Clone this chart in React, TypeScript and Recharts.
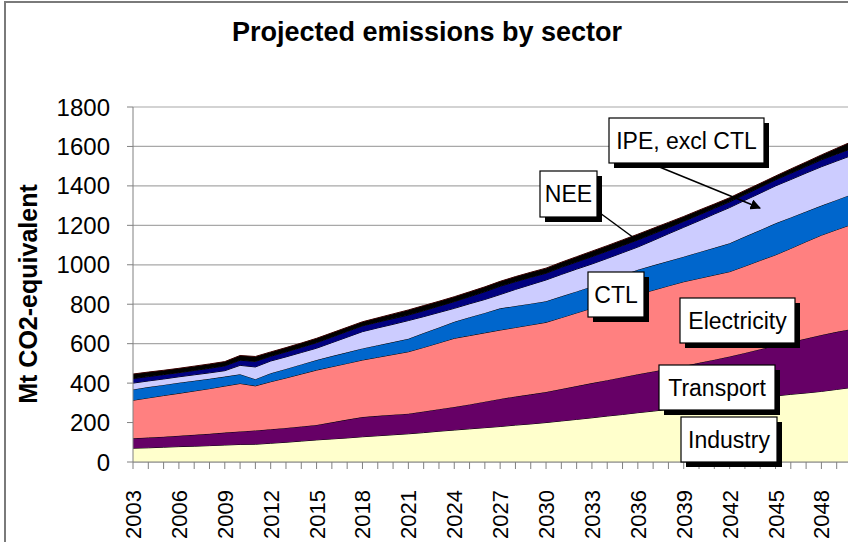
import { AreaChart, Area, XAxis, YAxis, CartesianGrid } from "recharts";

const years = [
  2003, 2004, 2005, 2006, 2007, 2008, 2009, 2010, 2011, 2012, 2013, 2014,
  2015, 2016, 2017, 2018, 2019, 2020, 2021, 2022, 2023, 2024, 2025, 2026,
  2027, 2028, 2029, 2030, 2031, 2032, 2033, 2034, 2035, 2036, 2037, 2038,
  2039, 2040, 2041, 2042, 2043, 2044, 2045, 2046, 2047, 2048, 2049, 2050,
];

// Mt CO2-eq per sector, stacked bottom to top
const industry = [
  70, 72, 75, 78, 80, 83, 86, 89, 90, 95, 100, 106,
  112, 117, 122, 128, 133, 138, 143, 149, 156, 162, 168, 174,
  180, 187, 193, 200, 208, 216, 224, 233, 241, 250, 258, 267,
  275, 283, 292, 300, 312, 323, 335, 343, 350, 358, 368, 378,
];
const transport = [
  50, 52, 53, 55, 58, 60, 63, 66, 70, 71, 73, 74,
  76, 84, 93, 100, 101, 102, 102, 107, 112, 117, 124, 132,
  140, 145, 150, 155, 162, 169, 176, 182, 189, 195, 201, 206,
  212, 220, 227, 235, 241, 249, 255, 265, 276, 286, 292, 297,
];
const electricity = [
  193, 201, 209, 215, 222, 229, 236, 243, 226, 241, 253, 266,
  278, 282, 285, 289, 297, 305, 314, 325, 336, 348, 349, 349,
  349, 350, 352, 353, 362, 371, 380, 388, 397, 405, 412, 420,
  427, 428, 429, 430, 440, 450, 460, 475, 491, 506, 518, 530,
];
const ctl = [
  55, 55, 54, 54, 52, 50, 48, 47, 34, 43, 46, 49,
  51, 54, 56, 59, 61, 63, 66, 73, 78, 84, 93, 101,
  110, 109, 108, 107, 108, 109, 110, 115, 120, 125, 126, 126,
  127, 133, 138, 144, 150, 154, 160, 157, 153, 150, 151, 153,
];
const ipe = [
  32, 31, 30, 30, 30, 30, 30, 45, 62, 62, 61, 60,
  60, 68, 77, 85, 88, 90, 92, 83, 76, 68, 68, 68,
  70, 84, 96, 108, 111, 113, 114, 114, 114, 115, 126, 138,
  149, 159, 171, 181, 184, 187, 190, 192, 195, 197, 197, 197,
];
const nee = [
  23, 22, 22, 21, 22, 23, 24, 26, 28, 24, 25, 26,
  28, 28, 29, 29, 29, 29, 28, 30, 32, 34, 36, 39,
  42, 39, 37, 34, 36, 36, 37, 37, 36, 36, 34, 31,
  30, 30, 29, 29, 29, 30, 30, 32, 33, 35, 35, 35,
];
const other = [
  23, 23, 22, 22, 22, 22, 22, 24, 25, 22, 22, 22,
  22, 22, 21, 21, 22, 24, 26, 26, 25, 25, 25, 25,
  25, 26, 26, 26, 26, 27, 28, 28, 29, 29, 28, 27,
  25, 24, 22, 21, 21, 20, 20, 22, 23, 25, 30, 35,
];

const xLabels = [
  2003, 2006, 2009, 2012, 2015, 2018, 2021, 2024, 2027, 2030, 2033, 2036,
  2039, 2042, 2045, 2048,
];
const yTicks = [0, 200, 400, 600, 800, 1000, 1200, 1400, 1600, 1800];

const data = years.map((year, i) => ({
  year,
  industry: industry[i],
  transport: transport[i],
  electricity: electricity[i],
  ctl: ctl[i],
  ipe: ipe[i],
  nee: nee[i],
  other: other[i],
}));

const FONT = '"Liberation Sans", Arial, Helvetica, sans-serif';

const callouts = [
  { text: "IPE, excl CTL", x: 609, y: 118, w: 155, h: 45 },
  { text: "NEE", x: 540, y: 171, w: 57, h: 46 },
  { text: "CTL", x: 588, y: 272, w: 56, h: 45 },
  { text: "Electricity", x: 680, y: 298, w: 115, h: 45 },
  { text: "Transport", x: 659, y: 365, w: 116, h: 45 },
  { text: "Industry", x: 681, y: 417, w: 96, h: 45 },
];

function YearTick(props: any) {
  const { x, y, payload } = props;
  if (!xLabels.includes(payload.value)) return <g />;
  return (
    <text
      x={x}
      y={y}
      dy={8}
      transform={`rotate(-90, ${x}, ${y})`}
      textAnchor="end"
      fontSize={22}
      fill="#000"
      fontFamily={FONT}
    >
      {payload.value}
    </text>
  );
}

export default function App() {
  return (
    <div
      style={{
        position: "fixed",
        left: 0,
        top: 0,
        width: 848,
        height: 542,
        overflow: "hidden",
        background: "#fff",
        fontFamily: FONT,
      }}
    >
      <div
        style={{
          position: "absolute",
          left: 4,
          top: 1,
          width: 900,
          height: 600,
          borderLeft: "2px solid #7a7a7a",
          borderTop: "2px solid #7a7a7a",
        }}
      />
      <div style={{ position: "absolute", left: 0, top: 0 }}>
        <AreaChart
          width={870}
          height={542}
          data={data}
          margin={{ top: 107, right: 18, bottom: 0, left: 0 }}
        >
          <CartesianGrid vertical={false} stroke="#a8a8a8" strokeWidth={1.2} />
          <XAxis
            dataKey="year"
            interval={0}
            height={80}
            stroke="#808080"
            tickSize={7}
            tickMargin={21}
            tick={<YearTick />}
          />
          <YAxis
            domain={[0, 1800]}
            ticks={yTicks}
            width={133}
            stroke="#808080"
            tickSize={6}
            tickMargin={17}
            tick={{ fontSize: 24, fill: "#000", fontFamily: FONT }}
          />
          <Area type="linear" dataKey="industry" stackId="1" stroke="#000" fill="#FFFFCC" fillOpacity={1} isAnimationActive={false} />
          <Area type="linear" dataKey="transport" stackId="1" stroke="#000" fill="#660066" fillOpacity={1} isAnimationActive={false} />
          <Area type="linear" dataKey="electricity" stackId="1" stroke="#000" fill="#FF8080" fillOpacity={1} isAnimationActive={false} />
          <Area type="linear" dataKey="ctl" stackId="1" stroke="#000" fill="#0066CC" fillOpacity={1} isAnimationActive={false} />
          <Area type="linear" dataKey="ipe" stackId="1" stroke="#000" fill="#CCCCFF" fillOpacity={1} isAnimationActive={false} />
          <Area type="linear" dataKey="nee" stackId="1" stroke="#000" fill="#000080" fillOpacity={1} isAnimationActive={false} />
          <Area type="linear" dataKey="other" stackId="1" stroke="#3a0000" fill="#000000" fillOpacity={1} isAnimationActive={false} />
        </AreaChart>
      </div>
      <svg
        width={848}
        height={542}
        style={{ position: "absolute", left: 0, top: 0, pointerEvents: "none" }}
      >
        <defs>
          <marker id="arrowHead" viewBox="0 0 10 10" refX="9" refY="5" markerWidth="7" markerHeight="7" orient="auto">
            <path d="M0,0 L10,5 L0,10 z" fill="#000" />
          </marker>
        </defs>
        <text x={427} y={41} textAnchor="middle" fontSize={27} fontWeight="bold" fill="#000">
          Projected emissions by sector
        </text>
        <text
          x={37}
          y={294}
          transform="rotate(-90, 37, 294)"
          textAnchor="middle"
          fontSize={25}
          fontWeight="bold"
          fill="#000"
        >
          Mt CO2-equivalent
        </text>
        <line x1={600} y1={213} x2={634} y2={238} stroke="#000" strokeWidth={1.5} />
        <line x1={657} y1={166} x2={760} y2={208} stroke="#000" strokeWidth={1.5} markerEnd="url(#arrowHead)" />
        {callouts.map((c) => (
          <g key={c.text}>
            <rect x={c.x + 5} y={c.y + 5} width={c.w} height={c.h} fill="#000" />
            <rect x={c.x} y={c.y} width={c.w} height={c.h} fill="#fff" stroke="#000" strokeWidth={1.2} />
            <text x={c.x + c.w / 2} y={c.y + c.h / 2 + 8} textAnchor="middle" fontSize={23} fill="#000">
              {c.text}
            </text>
          </g>
        ))}
      </svg>
    </div>
  );
}
